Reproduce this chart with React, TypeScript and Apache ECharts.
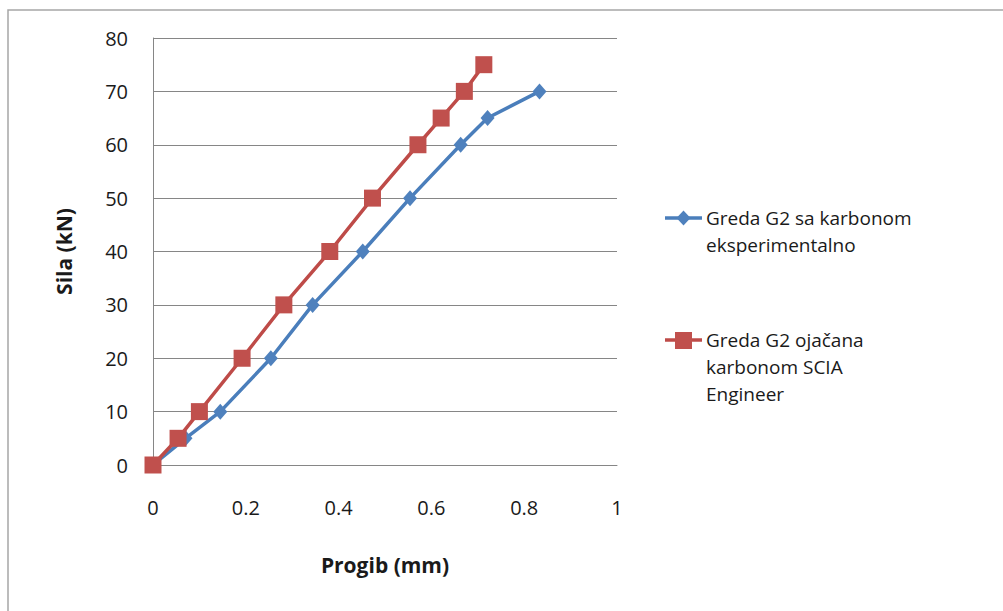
import React, { useEffect, useRef } from "react";
import * as echarts from "echarts";

const xTicks = [0, 0.2, 0.4, 0.6, 0.8, 1];
const yTicks = [0, 10, 20, 30, 40, 50, 60, 70, 80];

const blueName = "Greda G2 sa karbonom eksperimentalno";
const blueLegendLines = ["Greda G2 sa karbonom", "eksperimentalno"];
const blueX = [0, 0.07, 0.145, 0.254, 0.344, 0.452, 0.554, 0.663, 0.721, 0.833];
const blueY = [0, 5, 10, 20, 30, 40, 50, 60, 65, 70];

const redName = "Greda G2 ojačana karbonom SCIA Engineer";
const redLegendLines = ["Greda G2 ojačana", "karbonom SCIA", "Engineer"];
const redX = [0, 0.054, 0.1, 0.192, 0.282, 0.381, 0.473, 0.571, 0.621, 0.671, 0.713];
const redY = [0, 5, 10, 20, 30, 40, 50, 60, 65, 70, 75];

const xName = "Progib (mm)";
const yName = "Sila (kN)";

const FONT = "'Open Sans', 'Noto Sans', sans-serif";
const TEXT = "#1a1a1a";
const BLUE_LINE = "#4A7EBB";
const BLUE_MARK = "#4F81BD";
const RED_LINE = "#BE4B48";
const RED_MARK = "#C0504D";
const GRID = "#868686";

export default function App() {
  const ref = useRef<HTMLDivElement>(null);
  useEffect(() => {
    if (!ref.current) return;
    const chart = echarts.init(ref.current, undefined, { renderer: "svg" });
    const legendTexts = (lines: string[], x: number, yFirst: number) =>
      lines.map((line, i) => ({
        type: "text",
        x,
        y: yFirst + i * 27,
        style: {
          text: line,
          fontFamily: FONT,
          fontSize: 19,
          lineHeight: 22,
          fill: TEXT,
          verticalAlign: "middle",
        },
      }));
    chart.setOption({
      animation: false,
      backgroundColor: "#ffffff",
      grid: { left: 153, top: 38, right: 386, bottom: 146, containLabel: false },
      xAxis: {
        type: "value",
        min: 0,
        max: 1,
        interval: 0.2,
        name: xName,
        nameLocation: "middle",
        nameGap: 89,
        nameTextStyle: { fontFamily: FONT, fontSize: 21, fontWeight: "bold", color: TEXT },
        axisLine: { show: true, lineStyle: { color: GRID, width: 1 } },
        axisTick: { show: false },
        splitLine: { show: false },
        axisLabel: {
          margin: 32,
          fontFamily: FONT,
          fontSize: 20,
          color: TEXT,
          formatter: (v: number) => (xTicks.includes(Math.round(v * 10) / 10) ? String(Math.round(v * 10) / 10) : ""),
        },
      },
      yAxis: {
        type: "value",
        min: 0,
        max: 80,
        interval: 10,
        name: yName,
        nameLocation: "middle",
        nameGap: 79,
        nameTextStyle: { fontFamily: FONT, fontSize: 21, fontWeight: "bold", color: TEXT },
        axisLine: { show: true, lineStyle: { color: GRID, width: 1 } },
        axisTick: { show: false },
        splitLine: { show: true, lineStyle: { color: GRID, width: 1 } },
        axisLabel: {
          margin: 25,
          fontFamily: FONT,
          fontSize: 20,
          color: TEXT,
          formatter: (v: number) => (yTicks.includes(v) ? String(v) : ""),
        },
      },
      series: [
        {
          name: blueName,
          type: "line",
          data: blueX.map((x, i) => [x, blueY[i]]),
          symbol: "diamond",
          symbolSize: [14, 16],
          lineStyle: { color: BLUE_LINE, width: 3.5 },
          itemStyle: { color: BLUE_MARK },
          z: 2,
        },
        {
          name: redName,
          type: "line",
          data: redX.map((x, i) => [x, redY[i]]),
          symbol: "rect",
          symbolSize: 17,
          lineStyle: { color: RED_LINE, width: 3.5 },
          itemStyle: { color: RED_MARK },
          z: 3,
        },
      ],
      graphic: [
        {
          type: "rect",
          shape: { x: 8, y: 10, width: 1200, height: 800 },
          style: { fill: "none", stroke: "#a6a6a6", lineWidth: 1.5 },
          silent: true,
        },
        {
          type: "line",
          shape: { x1: 665, y1: 218, x2: 702, y2: 218 },
          style: { stroke: BLUE_LINE, lineWidth: 3.5 },
        },
        {
          type: "polygon",
          shape: { points: [[683.5, 210.5], [690.5, 218], [683.5, 225.5], [676.5, 218]] },
          style: { fill: BLUE_MARK },
        },
        ...legendTexts(blueLegendLines, 706, 218),
        {
          type: "line",
          shape: { x1: 665, y1: 340, x2: 702, y2: 340 },
          style: { stroke: RED_LINE, lineWidth: 3.5 },
        },
        {
          type: "rect",
          shape: { x: 675, y: 332, width: 17, height: 17 },
          style: { fill: RED_MARK },
        },
        ...legendTexts(redLegendLines, 706, 340),
      ],
    });
    return () => chart.dispose();
  }, []);
  return (
    <div
      ref={ref}
      style={{ position: "fixed", left: 0, top: 0, width: 1003, height: 611, background: "#fff" }}
    />
  );
}
